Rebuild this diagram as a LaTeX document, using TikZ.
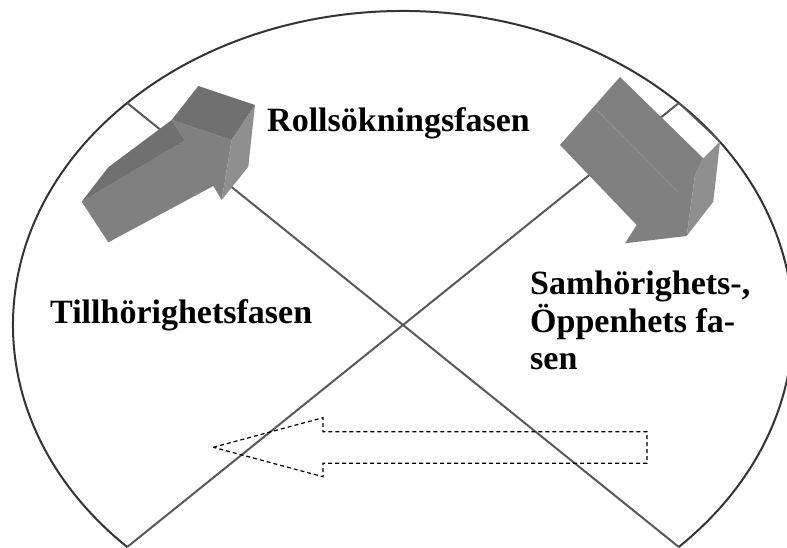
\documentclass[tikz,border=0pt]{standalone}
\usepackage{fontspec}
\setmainfont{Liberation Serif}
\usetikzlibrary{positioning}

\begin{document}
\begin{tikzpicture}[x=1pt,y=1pt,
    phaselabel/.style={font=\fontsize{34}{37.5}\selectfont\bfseries, inner sep=0pt},
    divider/.style={draw=black!65, line width=2pt},
    rim/.style={draw=black!80, line width=2pt},
    facemid/.style={fill=black!50},
    facedark/.style={fill=black!56},
    facelight/.style={fill=black!44},
    returnarrow/.style={draw=black, line width=1.2pt, dash pattern=on 4pt off 3pt},]
    \useasboundingbox (0,0) rectangle (787,548);
    % sector corners
    \coordinate (centre) at (403,223);
    \coordinate (cornerBL) at (127.2,1);
    \coordinate (cornerBR) at (678.8,1);
    \coordinate (cornerTL) at (127.2,445);
    \coordinate (cornerTR) at (678.8,445);
    \draw[rim] (cornerBL) arc[start angle=225, end angle=-45, x radius=390, y radius=314];
    \draw[divider] (cornerBL) -- (centre) -- (cornerTR);
    \draw[divider] (cornerBR) -- (centre) -- (cornerTL);
    % block arrow, upper left
    \fill[facemid] (81.7,346.3) -- (185,407.3) -- (171.7,428) -- (231.7,408) -- (221.7,348) -- (213.3,362) -- (108.3,305.7) -- cycle;
    \fill[facedark] (81.7,346.3) -- (108.3,380.7) -- (171.7,428) -- (185,407.3) -- cycle;
    \fill[facedark] (171.7,428) -- (198.3,462) -- (255,443) -- (231.7,408) -- cycle;
    \fill[facelight] (231.7,408) -- (255,443) -- (248.3,381.3) -- (221.7,348) -- cycle;
    % block arrow, upper right
    \fill[facemid] (560,403) -- (620,471) -- (703.3,389.7) -- (695,373) -- (686.7,312) -- (625,304.7) -- (636.7,323) -- cycle;
    \fill[facelight] (703.3,389.7) -- (720,406.3) -- (713.3,346.3) -- (686.7,312) -- (695,373) -- cycle;
    \draw[black!42, line width=0.8pt] (597,438) -- (678,356);
    \coordinate (stripend) at (720,406.3);
    \draw[divider, line width=1.5pt] (cornerTR) -- (stripend);
    % dashed return arrow
    \draw[returnarrow] (213.3,100.7) -- (323,130.3) -- (323,116.3) -- (647,116.3)
        -- (647,84.7) -- (323,84.7) -- (323,71.3) -- cycle;
    % phase names
    \node[phaselabel, anchor=base west] (rollphase) at (267,416) {Rollsökningsfasen};
    \node[phaselabel, anchor=base west] (tillphase) at (50,224) {Tillhörighetsfasen};
    \node[phaselabel, anchor=base west, align=left] (samphase) at (530,178) {Samhörighets-,\\Öppenhets fa-\\sen};
\end{tikzpicture}
\end{document}
